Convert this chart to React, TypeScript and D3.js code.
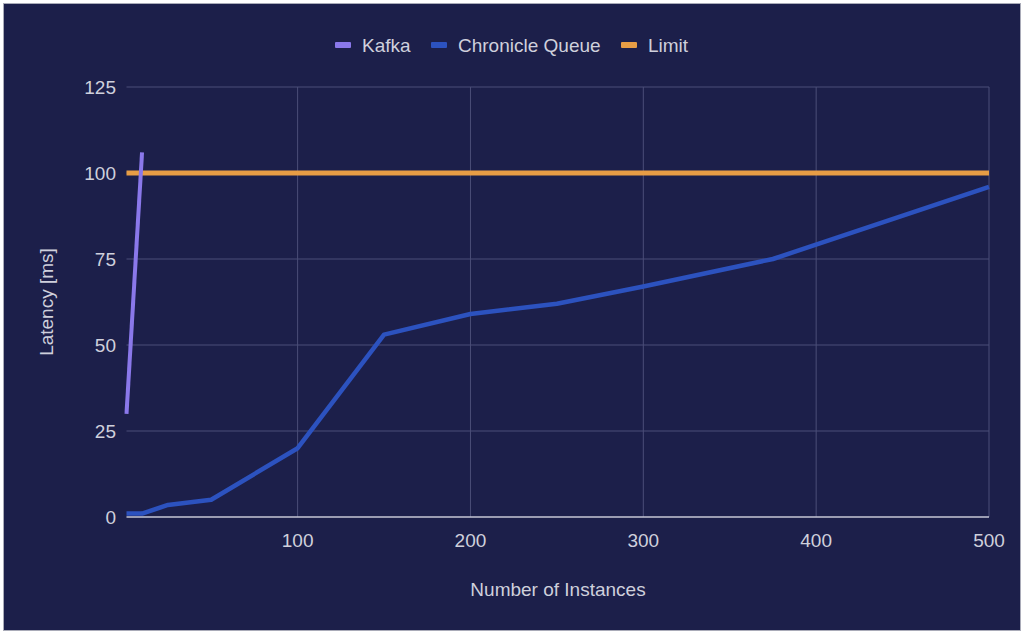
import React, { useRef, useEffect } from "react";
import * as d3 from "d3";

// data
const kafkaX = [1, 10];
const kafkaY = [30, 106];
const chronicleX = [1, 10, 25, 50, 100, 150, 200, 250, 300, 375, 500];
const chronicleY = [1, 1, 3.5, 5, 20, 53, 59, 62, 67, 75, 96];
const limitX = [1, 500];
const limitY = [100, 100];
const yTicks = [0, 25, 50, 75, 100, 125];
const xTicks = [100, 200, 300, 400, 500];
const seriesNames = ["Kafka", "Chronicle Queue", "Limit"];
const seriesColors = ["#8a78ea", "#2c52bf", "#e79d45"];

const W = 1024;
const H = 635;

const App = () => {
    const svgRef = useRef<SVGSVGElement>(null);

    useEffect(() => {
        if (!svgRef.current) return;
        const svg = d3.select(svgRef.current);
        svg.selectAll("*").remove();

        const font = "'Liberation Sans', Arial, sans-serif";
        const fontSize = "19px";
        const textColor = "#cfd0dc";

        // background panel
        svg.append("rect")
            .attr("x", 3.5).attr("y", 3.5)
            .attr("width", 1017).attr("height", 627)
            .attr("fill", "#1c1f4a")
            .attr("stroke", "#a9abb8")
            .attr("stroke-width", 1);

        const x = d3.scaleLinear().domain([1, 500]).range([126.5, 989]);
        const y = d3.scaleLinear().domain([0, 125]).range([517, 87]);

        // horizontal grid
        svg.append("g")
            .selectAll("line")
            .data(yTicks.filter((t) => t !== 0))
            .enter()
            .append("line")
            .attr("x1", x(1)).attr("x2", x(500))
            .attr("y1", (d) => y(d)).attr("y2", (d) => y(d))
            .attr("stroke", "#4b4e78")
            .attr("stroke-width", 1);

        // vertical grid
        svg.append("g")
            .selectAll("line")
            .data(xTicks)
            .enter()
            .append("line")
            .attr("x1", (d) => x(d)).attr("x2", (d) => x(d))
            .attr("y1", y(125)).attr("y2", y(0))
            .attr("stroke", "#4b4e78")
            .attr("stroke-width", 1);

        // baseline
        svg.append("line")
            .attr("x1", x(1)).attr("x2", x(500))
            .attr("y1", y(0)).attr("y2", y(0))
            .attr("stroke", "#c6c7d6")
            .attr("stroke-width", 1.5);

        // y tick labels
        svg.append("g")
            .selectAll("text")
            .data(yTicks)
            .enter()
            .append("text")
            .attr("x", 116)
            .attr("y", (d) => y(d))
            .attr("dy", "0.35em")
            .attr("text-anchor", "end")
            .style("font-family", font)
            .style("font-size", fontSize)
            .style("fill", textColor)
            .text((d) => d);

        // x tick labels
        svg.append("g")
            .selectAll("text")
            .data(xTicks)
            .enter()
            .append("text")
            .attr("x", (d) => x(d))
            .attr("y", 547)
            .attr("text-anchor", "middle")
            .style("font-family", font)
            .style("font-size", fontSize)
            .style("fill", textColor)
            .text((d) => d);

        // axis titles
        svg.append("text")
            .attr("x", 558).attr("y", 596)
            .attr("text-anchor", "middle")
            .style("font-family", font)
            .style("font-size", fontSize)
            .style("fill", textColor)
            .text("Number of Instances");

        svg.append("text")
            .attr("transform", "translate(53,302) rotate(-90)")
            .attr("text-anchor", "middle")
            .style("font-family", font)
            .style("font-size", fontSize)
            .style("fill", textColor)
            .text("Latency [ms]");

        // lines
        const line = d3.line<[number, number]>()
            .x((d) => x(d[0]))
            .y((d) => y(d[1]));

        const series: { xs: number[]; ys: number[]; color: string; width: number }[] = [
            { xs: limitX, ys: limitY, color: seriesColors[2], width: 5 },
            { xs: chronicleX, ys: chronicleY, color: seriesColors[1], width: 4.5 },
            { xs: kafkaX, ys: kafkaY, color: seriesColors[0], width: 4 },
        ];

        series.forEach((s) => {
            svg.append("path")
                .datum(s.xs.map((v, i) => [v, s.ys[i]] as [number, number]))
                .attr("d", line)
                .attr("fill", "none")
                .attr("stroke", s.color)
                .attr("stroke-width", s.width)
                .attr("stroke-linejoin", "round");
        });

        // legend
        const legendX = [335, 431, 621];
        const legend = svg.append("g");
        seriesNames.forEach((name, i) => {
            legend.append("rect")
                .attr("x", legendX[i]).attr("y", 42)
                .attr("width", 16).attr("height", 6)
                .attr("rx", 1)
                .attr("fill", seriesColors[i]);
            legend.append("text")
                .attr("x", legendX[i] + 27).attr("y", 45)
                .attr("dy", "0.35em")
                .style("font-family", font)
                .style("font-size", fontSize)
                .style("fill", textColor)
                .text(name);
        });
    }, []);

    return (
        <svg
            ref={svgRef}
            width={W}
            height={H}
            style={{ position: "absolute", left: 0, top: 0, background: "#ffffff" }}
        />
    );
};

export default App;
